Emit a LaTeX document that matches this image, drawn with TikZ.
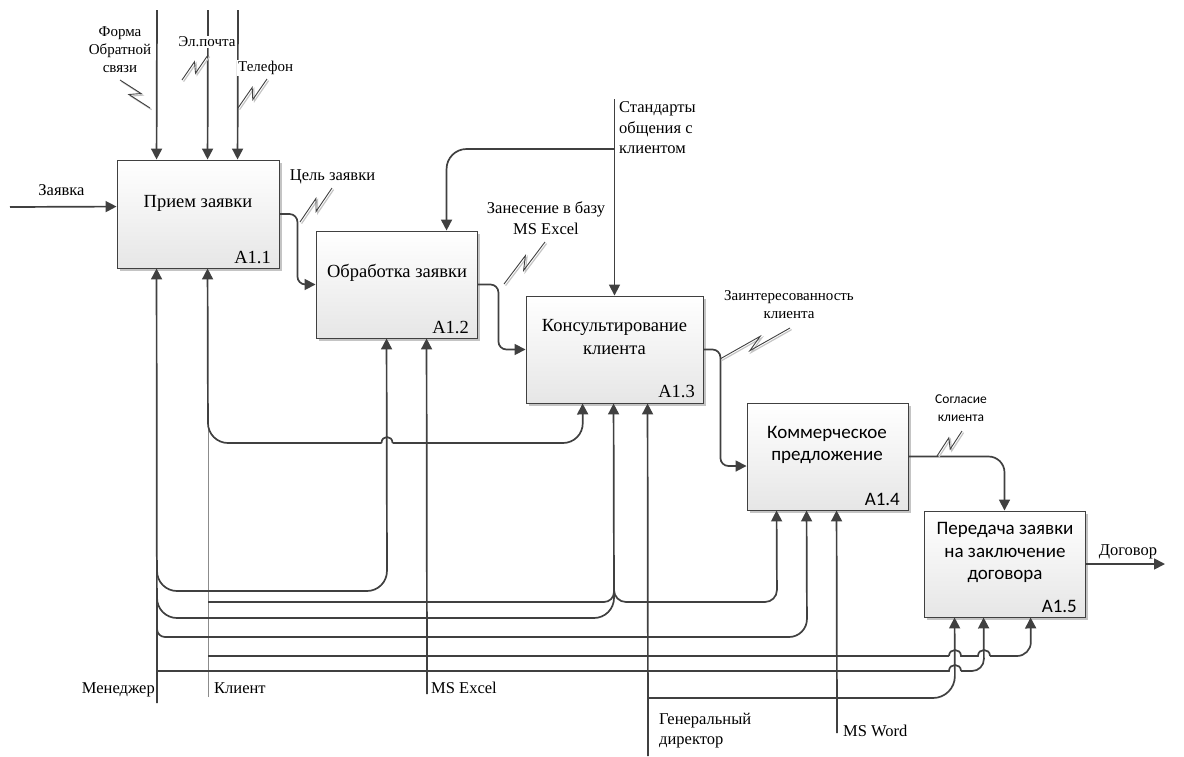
\documentclass[tikz,border=0pt]{standalone}
\usepackage{fontspec}
\setmainfont{Liberation Serif}
\newfontfamily\calib{Carlito}
\usetikzlibrary{arrows.meta,calc,shadows}

\definecolor{ink}{HTML}{404040}
\definecolor{lightink}{HTML}{8C8C8C}
\definecolor{shade}{HTML}{C4C4C4}
\definecolor{boxbot}{HTML}{E6E6E6}

\tikzset{
  box/.style={draw=ink, line width=0.9pt, top color=white, bottom color=boxbot,
    inner sep=0pt, drop shadow={shadow xshift=2.5pt, shadow yshift=-2.5pt, fill=shade, opacity=1}},
  btxt/.style={font=\fontsize{18.5}{23}\selectfont, align=center, inner sep=0pt},
  btxs/.style={font=\calib\fontsize{19}{22.5}\selectfont, align=center, inner sep=0pt},
  bnum/.style={font=\fontsize{18.5}{22}\selectfont, inner sep=0pt, anchor=east},
  bnums/.style={font=\calib\fontsize{19}{22}\selectfont, inner sep=0pt, anchor=east},
  lbl/.style={font=\fontsize{16.5}{20.5}\selectfont, inner sep=0pt, align=center},
  lbltop/.style={font=\fontsize{15}{18}\selectfont, inner sep=0pt, align=center},
  lblsm/.style={font=\fontsize{15}{18}\selectfont, inner sep=0pt, align=center},
  lblcal/.style={font=\calib\fontsize{13.5}{18}\selectfont, inner sep=0pt, align=center},
  tip/.tip={Triangle[length=11pt,width=11pt]},
  link/.style={draw=ink, line width=1.7pt},
  arr/.style={link, -tip},
  arrback/.style={link, tip-},
  feed/.style={draw=lightink, line width=1pt},
  zig/.style={draw=ink, line width=0.9pt},
  zigsh/.style={draw=shade, line width=1.2pt, transform canvas={shift={(1.6pt,-1.6pt)}}},
}

% IDEF0 squiggle tying a label to its arrow
\newcommand{\zigzag}[2]{%
  \draw[zigsh] (#1) -- ($(#1)!0.6!(#2)!4.5pt!90:(#2)$) -- ($(#1)!0.4!(#2)!4.5pt!-90:(#2)$) -- (#2);
  \draw[zig] (#1) -- ($(#1)!0.6!(#2)!4.5pt!90:(#2)$) -- ($(#1)!0.4!(#2)!4.5pt!-90:(#2)$) -- (#2);}

\begin{document}
\begin{tikzpicture}[x=1pt,y=-1pt]
\useasboundingbox (0,0) rectangle (1184,756);

% activity boxes
\node[box, minimum width=162pt, minimum height=108pt] (b1) at (198,214) {};
\node[box, minimum width=161pt, minimum height=107pt] (b2) at (396.5,284.5) {};
\node[box, minimum width=177pt, minimum height=107pt] (b3) at (614.5,349.5) {};
\node[box, minimum width=161pt, minimum height=107pt] (b4) at (827.5,456.5) {};
\node[box, minimum width=161pt, minimum height=106pt] (b5) at (1004.5,564) {};

\node[btxt] (t1) at (198,203) {Прием заявки};
\node[btxt] (t2) at (397,273) {Обработка заявки};
\node[btxt] (t3) at (614.5,337.5) {Консультирование\\клиента};
\node[btxs] (t4) at (827,445) {Коммерческое\\предложение};
\node[btxs] (t5) at (1005,552.5) {Передача заявки\\на заключение\\договора};

\node[bnum]  (n1) at (271,258) {A1.1};
\node[bnum]  (n2) at (469,327) {A1.2};
\node[bnum]  (n3) at (695,391) {A1.3};
\node[bnums] (n4) at (900,499) {A1.4};
\node[bnums] (n5) at (1077,606) {A1.5};

% ports on the boxes
\coordinate (q1a) at ($(b1.north west)+(40,0)$);
\coordinate (q1b) at ($(b1.north west)+(91,0)$);
\coordinate (q1c) at ($(b1.north west)+(121,0)$);
\coordinate (w1)  at ($(b1.north west)+(0,47)$);
\coordinate (p1a) at ($(b1.south west)+(40,0)$);
\coordinate (p1b) at ($(b1.south west)+(91,0)$);
\coordinate (q2)  at ($(b2.north west)+(131,0)$);
\coordinate (p2a) at ($(b2.south west)+(71,0)$);
\coordinate (p2b) at ($(b2.south west)+(111,0)$);
\coordinate (p3a) at ($(b3.south west)+(57,0)$);
\coordinate (p3b) at ($(b3.south west)+(88,0)$);
\coordinate (p3c) at ($(b3.south west)+(122,0)$);
\coordinate (w4)  at ($(b4.west)+(0,9.5)$);
\coordinate (p4a) at ($(b4.south west)+(30,0)$);
\coordinate (p4b) at ($(b4.south west)+(60,0)$);
\coordinate (p4c) at ($(b4.south west)+(90,0)$);
\coordinate (p5a) at ($(b5.south west)+(31,0)$);
\coordinate (p5b) at ($(b5.south west)+(60,0)$);
\coordinate (p5c) at ($(b5.south west)+(107,0)$);

% free ends and junctions
\coordinate (inForma) at (157,10);
\coordinate (inPochta) at (208,10);
\coordinate (inTel) at (238,10);
\coordinate (inZay) at (10,207);
\coordinate (inStd) at (614.5,99);
\coordinate (jS) at (614.5,149);
\coordinate (outDog) at (1165,564);
\coordinate (mMen) at (157,703);
\coordinate (mKli) at (208,697);
\coordinate (mExc) at (427,694);
\coordinate (mGen) at (648,756);
\coordinate (mWord) at (837,733);
\coordinate (jM1) at (157,560);
\coordinate (jM2) at (157,588);
\coordinate (jM3) at (157,620);
\coordinate (jM4) at (157,671);
\coordinate (jK0) at (208,430);
\coordinate (jK1) at (208,602);
\coordinate (jK2) at (208,656);
\coordinate (jB1) at (614,578);
\coordinate (jB2) at (614,588);
\coordinate (jG) at (648,698);
% line hops where a connector jumps over another
\coordinate (h1a) at (381.5,443); \coordinate (h1b) at (392.5,443);
\coordinate (h2a) at (949,656);   \coordinate (h2b) at (990,656);
\coordinate (h3a) at (949,671);   \coordinate (h3b) at (961,671);

% inputs and controls
\draw[arr] (inForma) -- (q1a);
\draw[arr] (inPochta) -- (q1b);
\draw[arr] (inTel) -- (q1c);
\draw[arr] (inZay) -- (w1);
\draw[arr] (inStd) -- (b3.north);
\draw[arr, rounded corners=20] (jS) -| (q2);

% flow between activities
\draw[arr, rounded corners=8] (b1.east) -- ++(18,0) |- (b2.west);
\draw[arr, rounded corners=8] (b2.east) -- ++(21,0) |- (b3.west);
\draw[arr, rounded corners=8] (b3.east) -- ++(17,0) |- (w4);
\draw[arr, rounded corners=16] (b4.east) -| (b5.north);
\draw[arr] (b5.east) -- (outDog);

% mechanisms
\draw[feed] (mKli) -- (jK0);
\draw[arr] (mMen) -- (p1a);
\draw[arr] (mExc) -- (p2b);
\draw[arr] (mGen) -- (p3c);
\draw[arr] (mWord) -- (p4c);

% Клиент -> A1.1 and A1.3, hopping over the A1.2 arrow
\draw[arrback, rounded corners=20] (p1b) -- (208,443) -- (h1a);
\draw[link] (h1a) .. controls (381.5,435) and (392.5,435) .. (h1b);
\draw[arr, rounded corners=20] (h1b) -- (583,443) -- (p3a);

\draw[arr, rounded corners=20] (jM1) -- (157,591) -- (387,591) -- (p2a);
\draw[arr, rounded corners=10] (jK1) -- (614,602) -- (p3b);
\draw[arr, rounded corners=12] (jB1) -- (614,602) -- (777,602) -- (p4a);
\draw[link, rounded corners=20] (jM2) -- (157,618) -- (614,618) -- (jB2);
\draw[link, rounded corners=8] (jM3) -- (157,637) -- (700,637);
\draw[arr, rounded corners=18] (700,637) -- (807,637) -- (p4b);

% Клиент -> A1.5
\draw[link] (jK2) -- (h2a);
\draw[link] (h2a) .. controls (949,648) and (961,648) .. (961,656) -- (978,656)
  .. controls (978,648) and (990,648) .. (h2b);
\draw[arr, rounded corners=14] (h2b) -- (1031,656) -- (p5c);
% Менеджер -> A1.5
\draw[link] (jM4) -- (h3a) .. controls (949,663) and (961,663) .. (h3b);
\draw[arr, rounded corners=12] (h3b) -- (984,671) -- (p5b);
% Генеральный директор -> A1.5
\draw[arr, rounded corners=22] (jG) -- (955,698) -- (p5a);

% labels
\node[lbltop] (lForma) at (120,50) {Форма\\Обратной\\связи};
\node[lbltop, fill=white, inner sep=1pt] (lPochta) at (207,42) {Эл.почта};
\node[lbltop, fill=white, inner sep=1.5pt, anchor=west] (lTel) at (236.5,68) {Телефон};
\node[lbl] (lZay) at (61.5,190) {Заявка};
\node[lbl] (lCel) at (332.5,177) {Цель заявки};
\node[lbl, anchor=west, align=left] (lStd) at (619,128) {Стандарты\\общения с\\клиентом};
\node[lbl] (lZan) at (546,218) {Занесение в базу\\MS Excel};
\node[lblsm] (lInt) at (789,305) {Заинтересованность\\клиента};
\node[lblcal] (lSog) at (961,408) {Согласие\\клиента};
\node[lbl] (lDog) at (1128,552) {Договор};
\node[lbl, anchor=east] (lMen) at (155,690) {Менеджер};
\node[lbl, anchor=west] (lKli) at (214,688) {Клиент};
\node[lbl, anchor=west] (lExc) at (431,688) {MS Excel};
\node[lbl, anchor=west, align=left] (lGen) at (659,730.5) {Генеральный\\директор};
\node[lbl, anchor=west] (lWord) at (843,731) {MS Word};

% squiggles from labels to arrows
\coordinate (zF1) at (120,80);  \coordinate (zF2) at (150,108);
\coordinate (zE1) at (182,80);  \coordinate (zE2) at (208,55);
\coordinate (zT1) at (238,108); \coordinate (zT2) at (267,79);
\coordinate (zC1) at (300,222); \coordinate (zC2) at (332,188);
\coordinate (zZ1) at (504,284); \coordinate (zZ2) at (545,242);
\coordinate (zI1) at (720,359); \coordinate (zI2) at (790,328);
\coordinate (zS1) at (937,456); \coordinate (zS2) at (962,431);
\zigzag{zF1}{zF2}
\zigzag{zE1}{zE2}
\zigzag{zT1}{zT2}
\zigzag{zC1}{zC2}
\zigzag{zZ1}{zZ2}
\zigzag{zI1}{zI2}
\zigzag{zS1}{zS2}
\end{tikzpicture}
\end{document}
